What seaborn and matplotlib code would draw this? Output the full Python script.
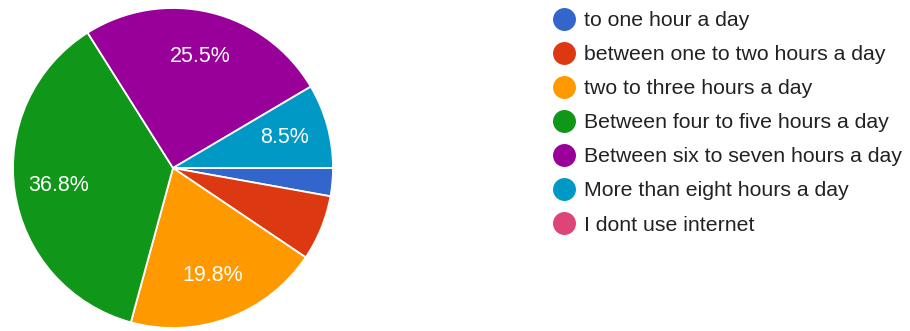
import matplotlib
matplotlib.use("Agg")
import matplotlib.pyplot as plt
from matplotlib.lines import Line2D
import seaborn as sns

# Survey responses: daily internet use
categories = [
    "to one hour a day",
    "between one to two hours a day",
    "two to three hours a day",
    "Between four to five hours a day",
    "Between six to seven hours a day",
    "More than eight hours a day",
    "I dont use internet",
]
counts = [3, 7, 21, 39, 27, 9, 0]
colors = ["#3366CC", "#DC3912", "#FF9900", "#109618", "#990099", "#0099C6", "#DD4477"]

sns.set_theme(style="white")
plt.rcParams["font.family"] = ["Liberation Sans", "DejaVu Sans"]

W, H = 910, 331
fig = plt.figure(figsize=(W / 100, H / 100), dpi=100)
fig.patch.set_facecolor("white")

# Pie axes: centre (173, 168) px, radius 160 px
cx, cy, r = 173, 168, 160
ax = fig.add_axes([(cx - r) / W, (H - cy - r) / H, 2 * r / W, 2 * r / H])
ax.set_aspect("equal")


def autopct(p):
    # only slices large enough to hold a label get one
    return f"{p:.1f}%" if p >= 8 else ""


wedges, texts, autotexts = ax.pie(
    counts,
    colors=colors,
    startangle=0,
    counterclock=False,
    autopct=autopct,
    pctdistance=0.72,
    radius=1.0,
    wedgeprops=dict(edgecolor="white", linewidth=1.3),
    textprops=dict(color="white", fontsize=15.5),
)
ax.set_xlim(-1, 1)
ax.set_ylim(-1, 1)
ax.axis("off")

# Legend with round markers
handles = [
    Line2D([0], [0], marker="o", linestyle="none", markersize=15.5,
           markerfacecolor=c, markeredgecolor=c)
    for c in colors
]
leg = fig.legend(
    handles, categories,
    loc="upper left",
    bbox_to_anchor=(553 / W, 1 - 11 / H),
    frameon=False,
    fontsize=15.3,
    handlelength=1.0,
    handletextpad=0.45,
    labelspacing=0.71,
    borderpad=0,
    borderaxespad=0,
)
for t in leg.get_texts():
    t.set_color("#222222")

fig.savefig("out.png", dpi=100, facecolor="white")
